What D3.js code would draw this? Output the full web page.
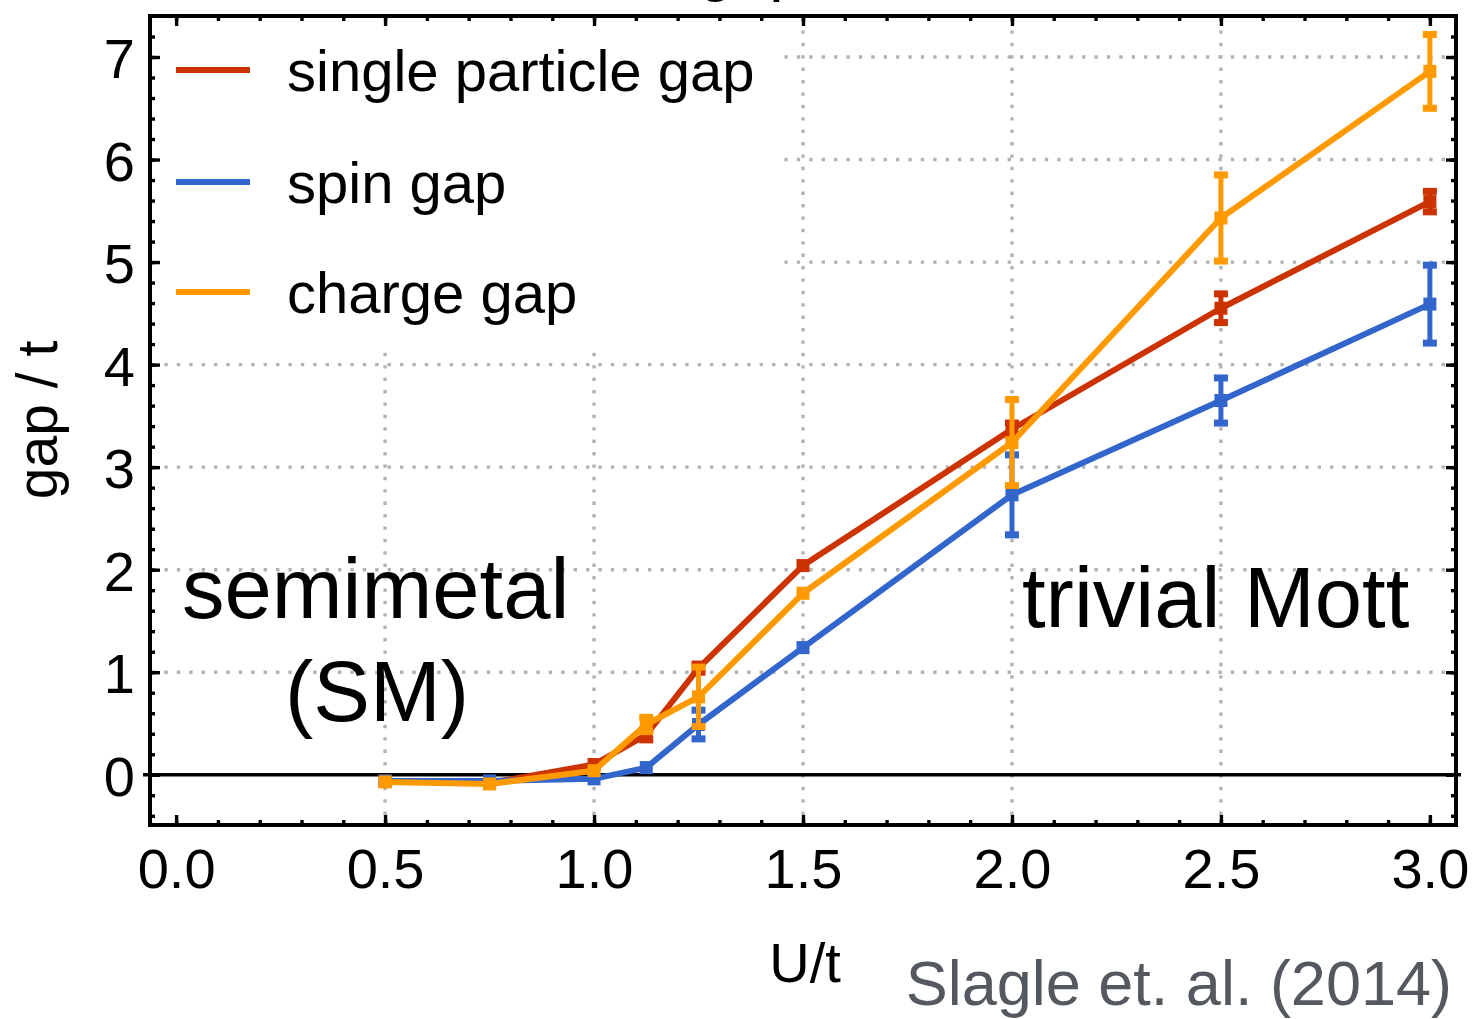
<!DOCTYPE html>
<html>
<head>
<meta charset="utf-8">
<script src="https://cdn.jsdelivr.net/npm/d3@7"></script>
<style>
  html, body { margin: 0; padding: 0; background: #fff; }
  svg { display: block; font-family: "Liberation Sans", Arial, Helvetica, sans-serif; }
</style>
</head>
<body>
<svg id="chart" width="1475" height="1019"></svg>
<script>
// ---------------- data ----------------
const uValues = [0.5, 0.75, 1.0, 1.125, 1.25, 1.5, 2.0, 2.5, 3.0];

const singleParticleGap = [-0.06, -0.08, 0.10, 0.39, 1.04, 2.04, 3.37, 4.55, 5.59];
const singleParticleErr = [0.01, 0.01, 0.02, 0.05, 0.04, 0.03, 0.06, 0.14, 0.10];

const spinGap = [-0.06, -0.06, -0.04, 0.07, 0.49, 1.24, 2.73, 3.65, 4.59];
const spinErr = [0.01, 0.01, 0.02, 0.02, 0.14, 0.03, 0.39, 0.22, 0.38];

const chargeGap = [-0.07, -0.09, 0.04, 0.49, 0.76, 1.77, 3.24, 5.43, 6.86];
const chargeErr = [0.01, 0.01, 0.02, 0.07, 0.29, 0.03, 0.42, 0.42, 0.36];

const seriesNames = ["single particle gap", "spin gap", "charge gap"];
const seriesColors = ["#cc3300", "#3366cc", "#ff9900"];

const xTickValues = [0.0, 0.5, 1.0, 1.5, 2.0, 2.5, 3.0];
const xTickLabels = ["0.0", "0.5", "1.0", "1.5", "2.0", "2.5", "3.0"];
const yTickValues = [0, 1, 2, 3, 4, 5, 6, 7];
const yTickLabels = ["0", "1", "2", "3", "4", "5", "6", "7"];
const xGridValues = [0.5, 1.0, 1.5, 2.0, 2.5];
const yGridValues = [1, 2, 3, 4, 5, 6, 7];

// ---------------- layout ----------------
const svg = d3.select("#chart");
const L = 150, R = 1456, T = 16, B = 825;

const x = d3.scaleLinear().domain([-0.0625, 3.0625]).range([L, R]);
const y = d3.scaleLinear().domain([-0.49, 7.4]).range([B, T]);

const FONT = 56;

// grid
const grid = svg.append("g");
grid.selectAll("line.gx").data(xGridValues).join("line")
  .attr("x1", d => x(d)).attr("x2", d => x(d))
  .attr("y1", T + 2).attr("y2", B - 2)
  .attr("stroke", "#b3b3b3").attr("stroke-width", 3.4)
  .attr("stroke-dasharray", "3.4,9");
grid.selectAll("line.gy").data(yGridValues).join("line")
  .attr("x1", L + 2).attr("x2", R - 2)
  .attr("y1", d => y(d)).attr("y2", d => y(d))
  .attr("stroke", "#b3b3b3").attr("stroke-width", 3.4)
  .attr("stroke-dasharray", "3.4,9");

// legend background (covers grid)
svg.append("rect").attr("x", L + 2).attr("y", T + 2)
  .attr("width", 780 - L - 2).attr("height", 345 - T - 2)
  .attr("fill", "#fff");

// zero axis line
svg.append("line")
  .attr("x1", L - 7).attr("x2", R + 5)
  .attr("y1", y(0)).attr("y2", y(0))
  .attr("stroke", "#000").attr("stroke-width", 3.6);

// ---------------- axes (frame ticks) ----------------
const xMinor = d3.range(0, 3.0001, 0.1);
const yMinor = d3.range(-0.4, 7.3, 0.2);

function styleAxis(g) {
  g.select(".domain").remove();
  g.selectAll(".tick line").attr("stroke", "#000").attr("stroke-width", 3.4);
}

// bottom
svg.append("g").attr("transform", `translate(0,${B})`)
  .call(d3.axisBottom(x).tickValues(xMinor).tickSize(-5).tickFormat(""))
  .call(styleAxis);
svg.append("g").attr("transform", `translate(0,${B})`)
  .call(d3.axisBottom(x).tickValues(xTickValues).tickSize(-10).tickPadding(23)
    .tickFormat((d, i) => xTickLabels[i]))
  .call(styleAxis)
  .call(g => g.selectAll("text").attr("font-size", FONT).attr("fill", "#000")
    .attr("font-family", "Liberation Sans, Arial, sans-serif"));
// top
svg.append("g").attr("transform", `translate(0,${T})`)
  .call(d3.axisTop(x).tickValues(xMinor).tickSize(-5).tickFormat(""))
  .call(styleAxis);
svg.append("g").attr("transform", `translate(0,${T})`)
  .call(d3.axisTop(x).tickValues(xTickValues).tickSize(-10).tickFormat(""))
  .call(styleAxis);
// left
svg.append("g").attr("transform", `translate(${L},0)`)
  .call(d3.axisLeft(y).tickValues(yMinor).tickSize(-5).tickFormat(""))
  .call(styleAxis);
svg.append("g").attr("transform", `translate(${L},0)`)
  .call(d3.axisLeft(y).tickValues(yTickValues).tickSize(-10).tickPadding(15)
    .tickFormat((d, i) => yTickLabels[i]))
  .call(styleAxis)
  .call(g => g.selectAll("text").attr("font-size", FONT).attr("fill", "#000")
    .attr("dy", "0.37em").attr("font-family", "Liberation Sans, Arial, sans-serif"));
// right
svg.append("g").attr("transform", `translate(${R},0)`)
  .call(d3.axisRight(y).tickValues(yMinor).tickSize(-5).tickFormat(""))
  .call(styleAxis);
svg.append("g").attr("transform", `translate(${R},0)`)
  .call(d3.axisRight(y).tickValues(yTickValues).tickSize(-10).tickFormat(""))
  .call(styleAxis);

// frame
svg.append("rect").attr("x", L).attr("y", T)
  .attr("width", R - L).attr("height", B - T)
  .attr("fill", "none").attr("stroke", "#000").attr("stroke-width", 4);

// ---------------- series ----------------
const seriesValues = [singleParticleGap, spinGap, chargeGap];
const seriesErrors = [singleParticleErr, spinErr, chargeErr];

const line = d3.line().x(d => x(d.u)).y(d => y(d.v));

seriesValues.forEach((vals, si) => {
  const col = seriesColors[si];
  const pts = uValues.map((u, i) => ({ u, v: vals[i], e: seriesErrors[si][i] }));
  const g = svg.append("g");
  g.append("path").datum(pts).attr("d", line)
    .attr("fill", "none").attr("stroke", col).attr("stroke-width", 6)
    .attr("stroke-linejoin", "round");
  // error bars
  const eb = pts.filter(p => p.e >= 0.04);
  g.selectAll("line.eb").data(eb).join("line")
    .attr("x1", d => x(d.u)).attr("x2", d => x(d.u))
    .attr("y1", d => y(d.v - d.e)).attr("y2", d => y(d.v + d.e))
    .attr("stroke", col).attr("stroke-width", 5);
  g.selectAll("rect.capT").data(eb).join("rect")
    .attr("x", d => x(d.u) - 7).attr("y", d => y(d.v + d.e) - 3.5)
    .attr("width", 14).attr("height", 7).attr("fill", col);
  g.selectAll("rect.capB").data(eb).join("rect")
    .attr("x", d => x(d.u) - 7).attr("y", d => y(d.v - d.e) - 3.5)
    .attr("width", 14).attr("height", 7).attr("fill", col);
  // markers
  g.selectAll("rect.mk").data(pts).join("rect")
    .attr("x", d => x(d.u) - 6.5).attr("y", d => y(d.v) - 6.5)
    .attr("width", 13).attr("height", 13).attr("fill", col);
});

// ---------------- legend ----------------
const legY = [70, 182, 292];
seriesNames.forEach((name, i) => {
  svg.append("line").attr("x1", 176).attr("x2", 250)
    .attr("y1", legY[i]).attr("y2", legY[i])
    .attr("stroke", seriesColors[i]).attr("stroke-width", 6);
  svg.append("text").attr("x", 287).attr("y", legY[i] + 21)
    .attr("font-size", 58).attr("fill", "#000").text(name);
});

// ---------------- annotations ----------------
svg.append("text").attr("x", 182).attr("y", 618).attr("font-size", 85).text("semimetal");
svg.append("text").attr("x", 285).attr("y", 721).attr("font-size", 85).text("(SM)");
svg.append("text").attr("x", 1022).attr("y", 627).attr("font-size", 85).text("trivial Mott");

// axis labels
svg.append("text").attr("transform", "translate(57,420) rotate(-90)")
  .attr("text-anchor", "middle").attr("font-size", 57).text("gap / t");
svg.append("text").attr("x", 805).attr("y", 982)
  .attr("text-anchor", "middle").attr("font-size", 56).text("U/t");
svg.append("text").attr("x", 1452).attr("y", 1005)
  .attr("text-anchor", "end").attr("font-size", 63).attr("fill", "#54595f")
  .text("Slagle et. al. (2014)");

// title, cropped at the very top edge as in the reference
svg.append("text").attr("x", 698).attr("y", -11)
  .attr("font-size", 64).text("gap");
</script>
</body>
</html>
